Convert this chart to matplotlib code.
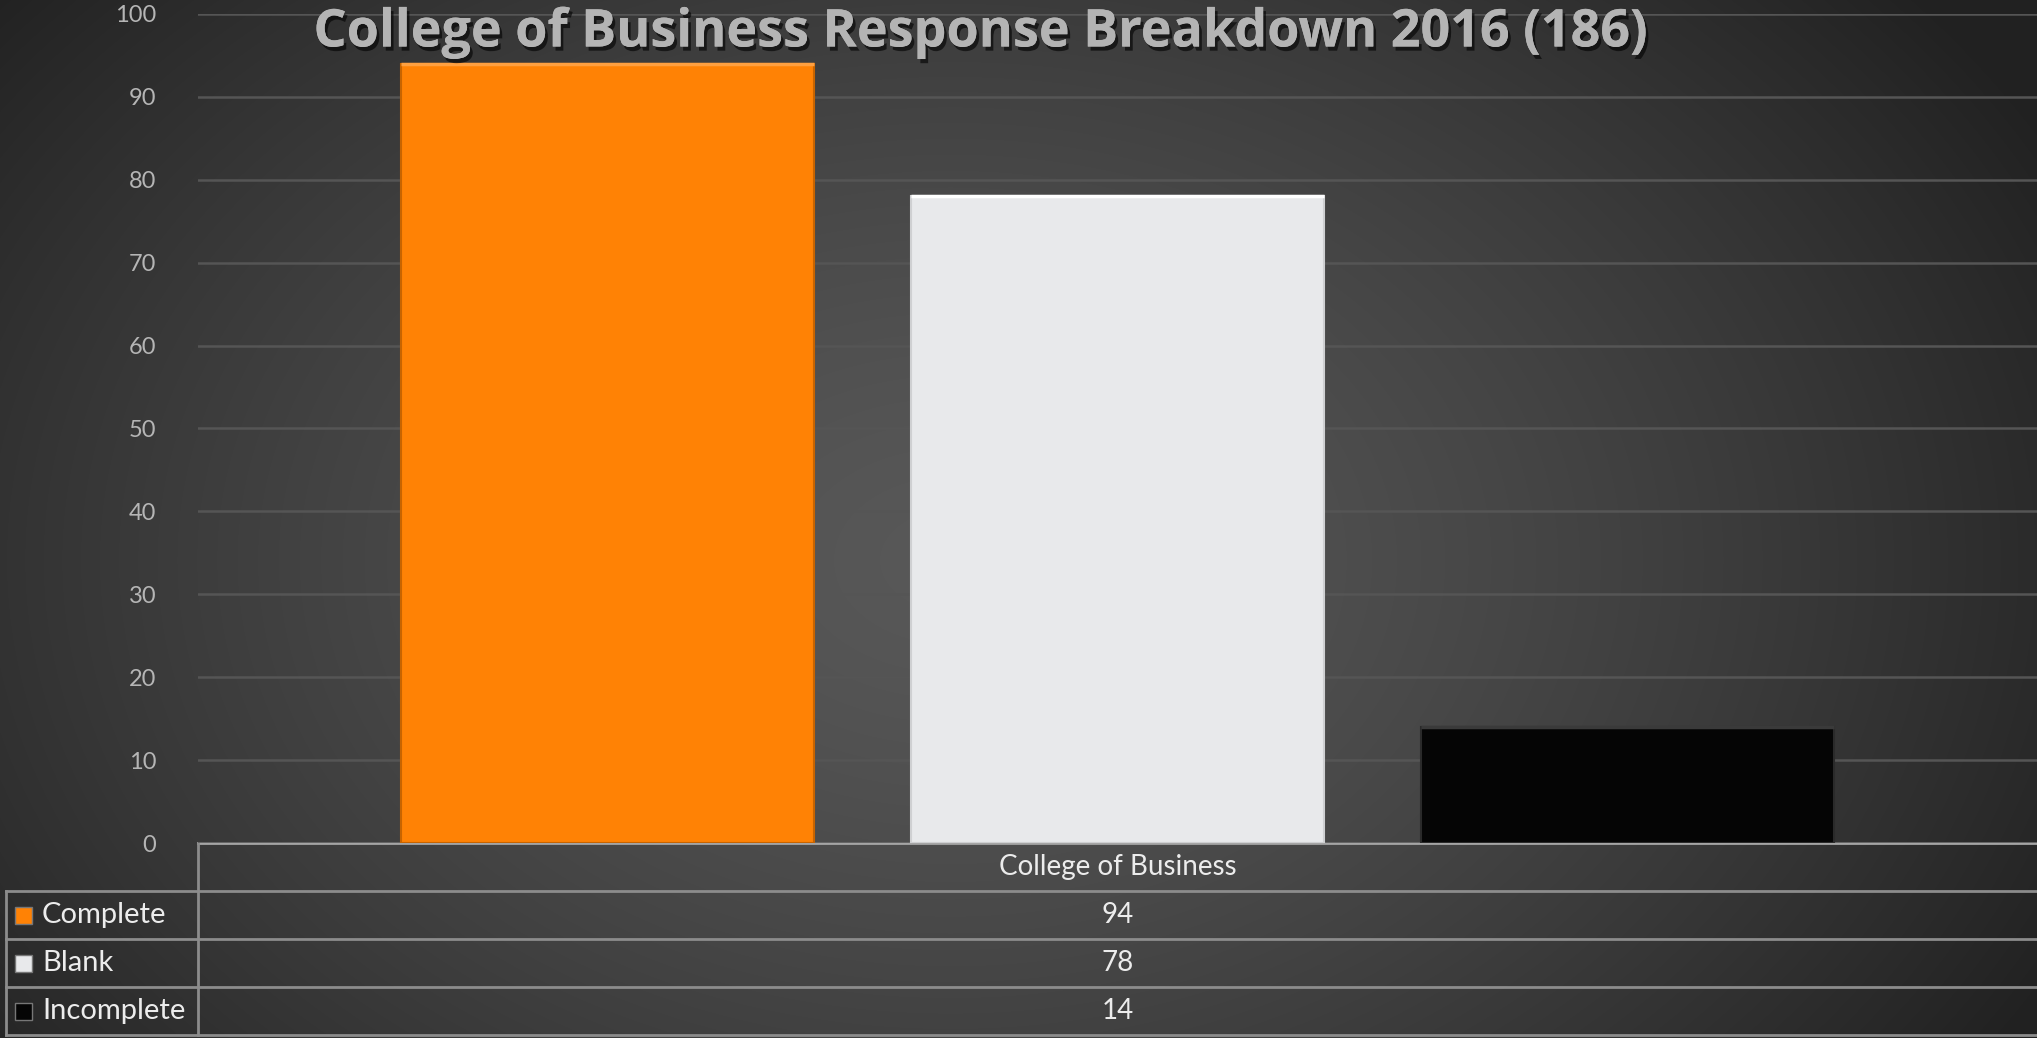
import numpy as np
import matplotlib.pyplot as plt
import matplotlib.patheffects as pe

plt.rcParams['font.family'] = ['Lato', 'DejaVu Sans']

# data
category = 'College of Business'
series = ['Complete', 'Blank', 'Incomplete']
values = [94, 78, 14]
colors = ['#FF8205', '#E8E9EB', '#050505']
yticks = [0, 10, 20, 30, 40, 50, 60, 70, 80, 90, 100]
title = 'College of Business Response Breakdown 2016 (186)'

W, H = 2037, 1038
fig = plt.figure(figsize=(W / 100, H / 100), dpi=100)

# background: radial gradient
bg = fig.add_axes([0, 0, 1, 1], zorder=-2)
yy, xx = np.mgrid[0:H, 0:W]
r = np.sqrt(((xx - 950) / 1250.) ** 2 + ((yy - 560) / 900.) ** 2)
r = np.clip(r, 0, 1)
c0, c1 = 0.345, 0.13
img = c0 + (c1 - c0) * r ** 1.4
bg.imshow(np.dstack([img, img, img]), aspect='auto', extent=[0, W, H, 0])
bg.set_xlim(0, W)
bg.set_ylim(H, 0)
bg.axis('off')

# plot area
x0, x1 = 198, W
ytop, ybot = 14, 843
ax = fig.add_axes([x0 / W, 1 - ybot / H, (x1 - x0) / W, (ybot - ytop) / H])
ax.set_facecolor('none')
ax.set_xlim(0, 1)
ax.set_ylim(0, 100)

step = 0.2775
width = 0.2246
xs = [0.5 + (i - 1) * step for i in range(len(values))]
ax.bar(xs, values, width=width, color=colors, zorder=3,
       edgecolor=['#c86400', '#cfd0d2', '#2a2a2a'], linewidth=1.5)
# light bevel on bar tops
for x, v, c in zip(xs, values, ['#FFA040', '#FFFFFF', '#3a3a3a']):
    ax.plot([x - width / 2, x + width / 2], [v, v], color=c, lw=2.5, zorder=4,
            solid_capstyle='butt')

ax.set_yticks(yticks)
ax.set_yticklabels([str(t) for t in yticks], fontsize=17, color='#b5b5b5')
ax.tick_params(axis='y', length=0, pad=30)
ax.tick_params(axis='x', length=0, labelbottom=False)
ax.grid(axis='y', color='#555555', lw=1.8, zorder=0)
for s in ax.spines.values():
    s.set_visible(False)

fig.text((283 + 1680) / 2 / W, 1 - 33 / H, title, ha='center', va='center',
         fontsize=37.5, fontweight='bold', color='#b4b4b4', family=['Open Sans', 'DejaVu Sans'],
         path_effects=[pe.withSimplePatchShadow(offset=(2, -3), shadow_rgbFace='black',
                                                alpha=0.6), pe.Normal()])

# data table below the plot
tb = fig.add_axes([0, 0, 1, 1], zorder=-1)
tb.set_xlim(0, W)
tb.set_ylim(H, 0)
tb.axis('off')
lc = '#8c8c8c'
rows = [843, 891, 939, 987, 1035]
tb.plot([x0, W], [rows[0], rows[0]], color='#a5a5a5', lw=2)
for y in rows[1:]:
    tb.plot([6, W], [y, y], color=lc, lw=2)
tb.plot([x0, x0], [rows[0], rows[-1]], color=lc, lw=2)
tb.plot([6, 6], [rows[1], rows[-1]], color=lc, lw=2)
xc = (x0 + W) / 2
tb.text(xc, (rows[0] + rows[1]) / 2, category, ha='center', va='center',
        fontsize=20, color='#ececec')
for i, (name, v, c) in enumerate(zip(series, values, colors)):
    yc = (rows[i + 1] + rows[i + 2]) / 2
    tb.add_patch(plt.Rectangle((15, yc - 8), 17, 17, facecolor=c,
                               edgecolor='#777777', lw=1))
    tb.text(42, yc, name, ha='left', va='center', fontsize=21, color='#ececec')
    tb.text(xc, yc, str(v), ha='center', va='center', fontsize=20, color='#ececec')

fig.savefig('out.png', dpi=100)
